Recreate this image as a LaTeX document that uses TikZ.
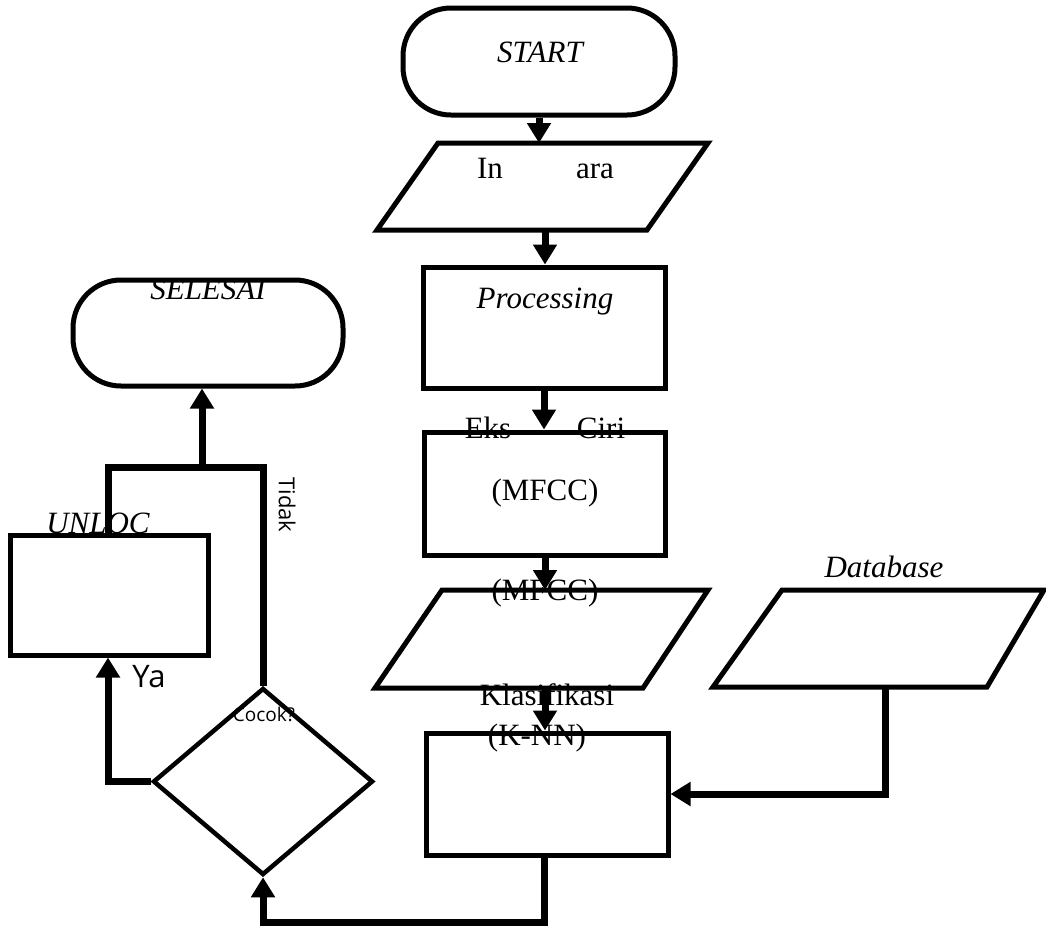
\documentclass[tikz,border=0pt]{standalone}
\usepackage{fontspec}
\setmainfont{Liberation Serif}
\newfontfamily\sansf{Open Sans}
\usetikzlibrary{arrows.meta,shapes.geometric}
\tikzset{
  shp/.style={draw=black, line width=5pt, fill=white, line join=miter},
  box/.style={shp, rectangle, inner sep=0pt},
  term/.style={shp, rectangle, rounded corners=48pt, inner sep=0pt},
  dec/.style={shp, line width=4.5pt, diamond, inner sep=0pt, minimum width=220pt, minimum height=187pt},
  conn/.style={line width=7pt, draw=black},
  arr/.style={conn, -{Triangle[length=20pt,width=23pt]}},
  serif/.style={font=\fontsize{31}{36}\selectfont, inner sep=0pt, anchor=base},
  iserif/.style={font=\fontsize{31}{36}\selectfont\itshape, inner sep=0pt, anchor=base},
  sans/.style={inner sep=0pt, anchor=base},
}
\begin{document}
\begin{tikzpicture}[x=1pt,y=-1pt]
\useasboundingbox (0,0) rectangle (1046,927);
\fill[white] (0,0) rectangle (1046,927);

% terminals and boxes
\node[term, minimum width=272pt, minimum height=107pt] (start) at (539,61.5) {};
\node[box, minimum width=242pt, minimum height=121pt] (proc) at (544,327.5) {};
\node[box, minimum width=241pt, minimum height=123pt] (mfcc) at (545,493.5) {};
\node[box, minimum width=242pt, minimum height=122pt] (knn) at (547,794) {};
\node[term, minimum width=270pt, minimum height=106pt] (selesai) at (208,333) {};
\node[box, minimum width=198pt, minimum height=120pt] (unloc) at (109,595) {};
\node[dec] (cocok) at (263,781.5) {};

% parallelograms
\draw[shp] (438,143) -- (708,143) -- (647,230) -- (377,230) -- cycle;
\coordinate (inp-t) at (540,143);
\coordinate (inp-b) at (545,230);
\draw[shp] (442,590) -- (708,590) -- (643,688) -- (375,688) -- cycle;
\coordinate (mf-t) at (545,590);
\coordinate (mf-b) at (545,688);
\draw[shp] (782,590) -- (1044,590) -- (987,687) -- (713,687) -- cycle;
\coordinate (db-b) at (885,687);

% helper coordinates
\coordinate (bot) at (544,922);
\coordinate (top) at (108,467);
\coordinate (sel) at (202,467);

% connectors
\draw[arr] (start.south) -- (start.south |- inp-t);
\draw[arr] (inp-b) -- (inp-b |- proc.north);
\draw[arr] (proc.south) -- (proc.south |- mfcc.north);
\draw[arr] (mfcc.south) -- (mfcc.south |- mf-t);
\draw[arr] (mf-b) -- (mf-b |- knn.north);
\draw[arr] (db-b) |- (knn.east);
\draw[arr] (bot |- knn.south) -- (bot) -| (cocok.south);
\draw[arr] (cocok.west) -| (top |- unloc.south);
\draw[conn] (cocok.north) |- (top) -- (top |- unloc.north);
\draw[arr] (sel) -- (sel |- selesai.south);

% texts
\node[iserif] (t-start) at (540,62) {START};
\node[serif] (t-in) at (490,178) {In};
\node[serif] (t-ara) at (595,178) {ara};
\node[iserif] (t-proc) at (545,308) {Processing};
\node[serif] (t-eks) at (488,438) {Eks};
\node[serif] (t-ciri) at (601,438) {Ciri};
\node[serif] (t-mfcc) at (545,500) {(MFCC)};
\node[serif] (t-mfcc2) at (545,600) {(MFCC)};
\node[serif] (t-klas) at (547,705) {Klasifikasi};
\node[serif] (t-knn) at (537,745) {(K-NN)};
\node[iserif] (t-db) at (884,577) {Database};
\node[iserif] (t-sel) at (208,299) {SELESAI};
\node[iserif] (t-unloc) at (98,533) {UNLOC};
\node[sans, font=\sansf\fontsize{31}{36}\selectfont] (t-ya) at (149,687) {Ya};
\node[sans, font=\sansf\fontsize{19}{22}\selectfont] (t-cocok) at (264,721) {Cocok?};
\node[inner sep=0pt, rotate=-90, font=\sansf\fontsize{22}{26}\selectfont] (t-tidak) at (287,505) {Tidak};
\end{tikzpicture}
\end{document}
